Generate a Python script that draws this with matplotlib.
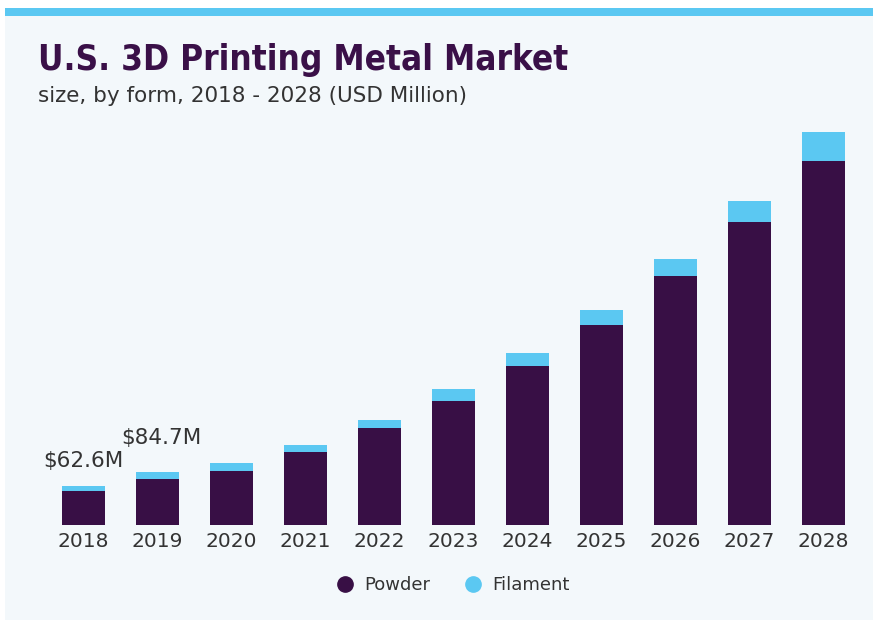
import matplotlib
matplotlib.use("Agg")
import matplotlib.pyplot as plt
from matplotlib.patches import Rectangle
from matplotlib.lines import Line2D

years = ["2018", "2019", "2020", "2021", "2022", "2023", "2024", "2025", "2026", "2027", "2028"]
powder = [54.4, 73.0, 85.9, 116.8, 155.0, 198.0, 254.0, 320.0, 398.0, 485.0, 583.0]
filament = [8.2, 11.7, 12.8, 11.5, 13.0, 20.0, 21.0, 24.0, 28.0, 33.0, 46.0]
labels = {0: "$62.6M", 1: "$84.7M"}

PURPLE = "#380F45"
BLUE = "#5BC8F2"
BG = "#F3F8FB"
TXT = "#333333"

W, H = 873, 620
fig = plt.figure(figsize=(W / 100, H / 100), dpi=100)
fig.patch.set_facecolor("white")

# panel background and top band
fig.patches.append(Rectangle((5 / W, 0), 1 - 5 / W, (H - 8) / H, transform=fig.transFigure,
                             facecolor=BG, edgecolor="none", zorder=-2))
fig.patches.append(Rectangle((5 / W, (H - 16) / H), 1 - 5 / W, 8 / H, transform=fig.transFigure,
                             facecolor=BLUE, edgecolor="none", zorder=-1))

# axes placement (pixel based)
left_px, right_px = 46.5, 860.5
base_px = 525
ymax = 700
top_px = base_px - ymax / 1.6
ax = fig.add_axes([left_px / W, (H - base_px) / H, (right_px - left_px) / W, (base_px - top_px) / H])
ax.set_zorder(3)
ax.set_facecolor("none")
x = list(range(len(years)))
ax.bar(x, powder, width=0.58, color=PURPLE, zorder=2)
ax.bar(x, filament, bottom=powder, width=0.58, color=BLUE, zorder=2)
ax.set_xlim(-0.5, len(years) - 0.5)
ax.set_ylim(0, ymax)
for s in ax.spines.values():
    s.set_visible(False)
ax.set_yticks([])
ax.set_xticks(x)
ax.set_xticklabels(years, fontsize=14.5, color=TXT)
ax.tick_params(axis="x", length=0, pad=5)

offsets = {0: (0.0, 14.5), 1: (0.05, 24)}
for i, t in labels.items():
    tot = powder[i] + filament[i]
    dx, dy = offsets[i]
    ax.text(i + dx, tot + dy * 1.6, t, ha="center", va="bottom", fontsize=15.5, color=TXT)

# titles
fig.text(38 / W, 1 - 60 / H, "U.S. 3D Printing Metal Market", fontsize=25.2, fontweight="bold",
         color="#3A1048", family="DejaVu Sans", stretch="condensed", va="center", ha="left")
fig.text(38 / W, 1 - 96 / H, "size, by form, 2018 - 2028 (USD Million)", fontsize=15.5,
         color=TXT, family="DejaVu Sans", va="center", ha="left")

# legend
handles = [Line2D([], [], marker="o", linestyle="none", markersize=11, color=PURPLE),
           Line2D([], [], marker="o", linestyle="none", markersize=11, color=BLUE)]
leg = fig.legend(handles, ["Powder", "Filament"], loc="center", bbox_to_anchor=(453 / W, 1 - 585 / H),
                 ncol=2, frameon=False, handlelength=1.0, handletextpad=0.55, columnspacing=1.9,
                 prop={"size": 13})
for t in leg.get_texts():
    t.set_color(TXT)

fig.savefig("out.png", dpi=100, facecolor=fig.get_facecolor())
